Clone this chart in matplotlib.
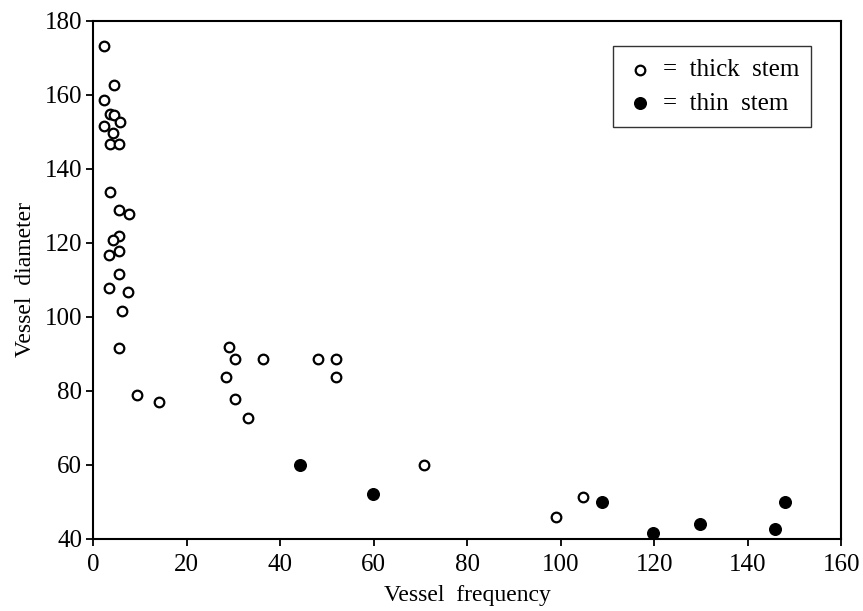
import matplotlib.pyplot as plt

# thick stem (open circles)
thick_x = [2.4, 4.5, 2.4, 3.6, 4.5, 2.3, 5.7, 4.3, 3.6, 5.6,
           3.6, 5.6, 7.6, 5.6, 4.3, 3.4, 5.6, 5.5, 3.4, 7.5,
           6.1, 5.5, 9.4, 14.1, 29.1, 30.3, 36.3, 28.4, 30.3, 33.1,
           48.1, 52.0, 52.0, 70.7, 99.0, 104.8]
thick_y = [173.2, 162.6, 158.7, 154.7, 154.5, 151.7, 152.7, 149.8, 146.6, 146.6,
           133.7, 128.8, 127.7, 121.8, 120.7, 116.7, 117.8, 111.7, 107.8, 106.7,
           101.7, 91.7, 79.0, 76.9, 91.8, 88.7, 88.7, 83.8, 77.7, 72.7,
           88.7, 88.7, 83.8, 60.0, 45.9, 51.2]

# thin stem (filled circles)
thin_x = [44.2, 59.8, 108.8, 119.8, 129.8, 145.9, 148.0]
thin_y = [60.0, 52.0, 50.0, 41.6, 43.9, 42.8, 50.0]

plt.rcParams['font.family'] = ['Liberation Serif', 'DejaVu Serif']

fig = plt.figure(figsize=(8.63, 6.11), dpi=100)
ax = fig.add_axes([0.108, 0.118, 0.867, 0.848])

ax.scatter(thick_x, thick_y, s=48, facecolors='white', edgecolors='black',
           linewidths=1.6, label='=  thick  stem', zorder=3)
ax.scatter(thin_x, thin_y, s=70, c='black', label='=  thin  stem', zorder=3)

ax.set_xlim(0, 160)
ax.set_ylim(40, 180)
ax.set_xticks(range(0, 161, 20))
ax.set_yticks(range(40, 181, 20))
ax.tick_params(direction='out', length=5, width=1.3, labelsize=18,
               top=False, right=False)
ax.tick_params(axis='x', pad=6)
ax.tick_params(axis='y', pad=3)
for sp in ax.spines.values():
    sp.set_linewidth(1.5)

ax.set_xlabel('Vessel  frequency', fontsize=17, labelpad=6)
ax.set_ylabel('Vessel  diameter', fontsize=17, labelpad=6)

leg = ax.legend(loc='upper right', bbox_to_anchor=(0.960, 0.951),
                borderaxespad=0, fontsize=18,
                frameon=True, fancybox=False, edgecolor='black',
                handletextpad=0.3, borderpad=0.5, labelspacing=0.45,
                handlelength=1.2, markerscale=1.0)
leg.get_frame().set_linewidth(1.0)

fig.savefig('out.png', dpi=100)
